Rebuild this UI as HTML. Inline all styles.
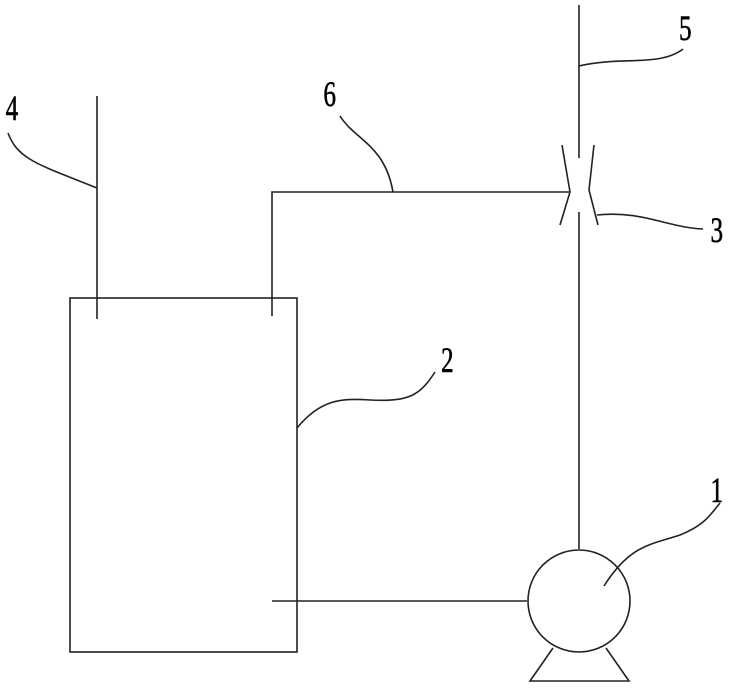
<!DOCTYPE html>
<html><head><style>
html,body{margin:0;padding:0;background:#fff;}
svg{display:block}
text{font-family:"Liberation Serif",serif;font-size:36px;fill:#000;stroke:#000;stroke-width:0.6;}
</style></head><body>
<svg width="730" height="689" viewBox="0 0 730 689" xmlns="http://www.w3.org/2000/svg">
<g fill="none" stroke="#222" stroke-width="1.6">
<rect x="70" y="298" width="227" height="354"/>
<line x1="97" y1="96" x2="97" y2="319"/>
<polyline points="272,316 272,192 570,192"/>
<line x1="579" y1="5" x2="579" y2="158"/>
<line x1="579" y1="212" x2="579" y2="549"/>
<polyline points="562,145 570,192 560,225"/>
<polyline points="594,145 589,190 598,225"/>
<line x1="272" y1="601" x2="527" y2="601"/>
<circle cx="579" cy="601" r="51"/>
<polyline points="553,648 530,681 629,681 606,648"/>
<path d="M8,133 C18,160 40,165 97,188"/>
<path d="M340,116 C355,140 385,145 393,192"/>
<path d="M579,66 C620,56 660,67 683,49"/>
<path d="M597,215 C640,210 670,228 703,229"/>
<path d="M297,428 C320,400 340,398 370,400 C410,402 420,395 435,372"/>
<path d="M604,586 C630,545 650,545 680,535 C705,525 710,515 720,503"/>
</g>
<g transform="scale(0.7,1)">
<text x="8" y="120">4</text>
<text x="462" y="106">6</text>
<text x="970" y="40">5</text>
<text x="1015" y="242">3</text>
<text x="630" y="372">2</text>
<text x="1015" y="502">1</text>
</g>
</svg>
</body></html>
